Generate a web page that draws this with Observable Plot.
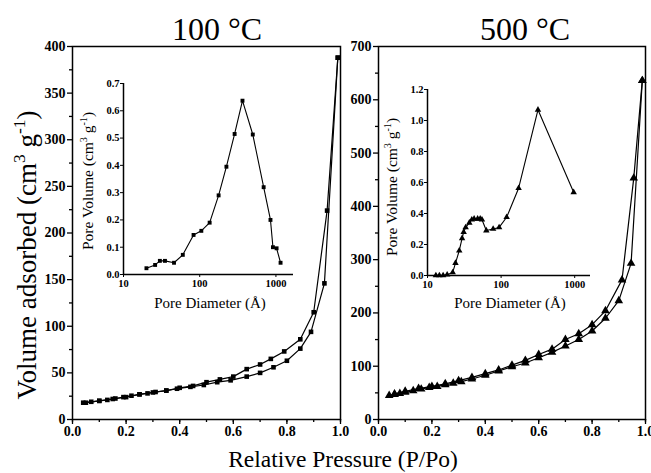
<!DOCTYPE html>
<html><head><meta charset="utf-8">
<script src="https://cdn.jsdelivr.net/npm/d3@7"></script>
<script src="https://cdn.jsdelivr.net/npm/@observablehq/plot@0.6"></script>
<style>
body{margin:0;background:#fff;}
#wrap{position:relative;width:651px;height:473px;overflow:hidden;background:#fff;}
#wrap svg{position:absolute;background:transparent !important;overflow:visible;}
</style></head><body><div id="wrap"></div>
<script>
// ---- 100 °C isotherm ----
const p100Ads = [0.04,0.07,0.10,0.13,0.16,0.19,0.22,0.25,0.28,0.31,0.35,0.39,0.44,0.49,0.54,0.59,0.65,0.70,0.75,0.80,0.85,0.89,0.94,0.99];
const v100Ads = [18,19,20,21,22.5,24,25.5,27,28,29.5,31,33,35,37,40,42,46,50,56,63,76,94,146,388];
const p100Des = [0.99,0.95,0.90,0.85,0.79,0.74,0.70,0.65,0.60,0.55,0.50,0.45,0.40,0.35,0.30,0.25,0.20,0.15,0.10,0.05];
const v100Des = [388,224,115,86,73,65,59,54,46,43,40,36,34,31,29,27,24,22,20,18];
// ---- 500 °C isotherm ----
const p500Ads = [0.04,0.06,0.08,0.10,0.13,0.16,0.19,0.22,0.25,0.28,0.31,0.35,0.40,0.45,0.50,0.55,0.60,0.65,0.70,0.75,0.80,0.85,0.90,0.946,0.988];
const v500Ads = [45,47,49,51,54,57,60,62,65,68,71,76,83,91,99,106,116,126,138,150,166,190,223,293,636];
const p500Des = [0.988,0.956,0.912,0.85,0.80,0.75,0.70,0.65,0.60,0.55,0.50,0.45,0.40,0.35,0.30,0.25,0.20,0.15,0.10,0.06];
const v500Des = [636,453,262,204,178,161,150,132,122,111,102,93,86,79,73,67,62,58,53,48];
// ---- pore size distributions (insets) ----
const d100 = [20,26,30,35,46,60,83,105,135,177,224,287,364,497,690,848,914,1020,1150];
const pv100 = [0.023,0.035,0.05,0.05,0.043,0.072,0.145,0.16,0.19,0.29,0.395,0.515,0.637,0.513,0.32,0.20,0.10,0.096,0.043];
const d500 = [13,14.5,16.3,18.5,22,24,27,29.5,31,33,37,40,43,48,52,55,63,78,94,119,173,317,968];
const pv500 = [0,0,0,0.005,0.02,0.08,0.16,0.24,0.28,0.31,0.34,0.36,0.366,0.366,0.366,0.36,0.29,0.30,0.31,0.376,0.563,1.069,0.537];
// ---- ticks / labels ----
const xMajor = [0,0.2,0.4,0.6,0.8,1.0];
const xMinor = [0,0.1,0.2,0.3,0.4,0.5,0.6,0.7,0.8,0.9,1.0];
const y100Major = [0,50,100,150,200,250,300,350,400];
const y100Minor = [25,75,125,175,225,275,325,375];
const y500Major = [0,100,200,300,400,500,600,700];
const y500Minor = [50,150,250,350,450,550,650];
const poreXTicks = [10,100,1000];
const pv100Ticks = [0,0.1,0.2,0.3,0.4,0.5,0.6,0.7];
const pv500Ticks = [0,0.2,0.4,0.6,0.8,1.0,1.2];
const titles = ["100 °C","500 °C"];

const zip = (xs, ys) => xs.map((x,i)=>({x, y: ys[i]}));
const wrap = document.getElementById("wrap");
const FONT = "Liberation Serif";
const fontOpts = (size) => ({fontFamily: FONT, fontSize: size, fontWeight: "bold", fill: "#000"});

function fixSvg(svg, left, top, size) {
  svg.setAttribute("font-family", FONT);
  d3.select(svg).selectAll("text").attr("font-family", FONT).attr("font-weight", "bold").attr("font-size", size);
  svg.style.left = left + "px"; svg.style.top = top + "px";
  svg.style.background = "transparent";
  wrap.appendChild(svg);
}

function mainPanel({ads, des, yMax, yMaj, yMin, symbol, r, width, marginLeft, marginRight, left}) {
  const f = fontOpts(14);
  const svg = Plot.plot({
    width, height: 473, marginTop: 46, marginBottom: 54, marginLeft, marginRight,
    x: {domain: [0,1]}, y: {domain: [0,yMax]},
    marks: [
      Plot.frame({stroke:"#000", strokeWidth:1.5}),
      Plot.axisX({ticks: xMinor, tickSize: 3, tickFormat: () => "", label: null, strokeWidth: 1.3, stroke:"#000"}),
      Plot.axisX({ticks: xMajor, tickSize: 5, tickPadding: 2, tickFormat: d3.format(".1f"), label: null, strokeWidth: 1.3, ...f, stroke:"#000"}),
      Plot.axisY({ticks: yMin, tickSize: 3, tickFormat: () => "", label: null, strokeWidth: 1.3, stroke:"#000"}),
      Plot.axisY({ticks: yMaj, tickSize: 5, tickPadding: 2, tickFormat: d3.format("d"), label: null, strokeWidth: 1.3, ...f, stroke:"#000"}),
      Plot.line(ads, {x:"x", y:"y", stroke:"#000", strokeWidth:1.2}),
      Plot.line(des, {x:"x", y:"y", stroke:"#000", strokeWidth:1.2}),
      Plot.dot(ads, {x:"x", y:"y", symbol, r, fill:"#000", stroke:"none"}),
      Plot.dot(des, {x:"x", y:"y", symbol, r, fill:"#000", stroke:"none"})
    ]
  });
  fixSvg(svg, left, 0, 14);
}

function inset({data, yMax, yTicks, xMax, symbol, r, left, top, plotW, plotH}) {
  const f = fontOpts(10.5);
  const svg = Plot.plot({
    width: 40 + plotW + 10, height: 10 + plotH + 45,
    marginLeft: 40, marginRight: 10, marginTop: 10, marginBottom: 45,
    x: {type: "log", domain: [10, xMax]}, y: {domain: [0, yMax]},
    marks: [
      Plot.ruleX([10], {stroke:"#000", strokeWidth:1.5}),
      Plot.ruleY([0], {stroke:"#000", strokeWidth:1.5}),
      Plot.axisX({ticks: poreXTicks, tickSize: 3, tickPadding: 2, tickFormat: d3.format("d"), label: null, ...f, stroke:"#000"}),
      Plot.axisY({ticks: yTicks, tickSize: 3, tickPadding: 1, tickFormat: d3.format(".1f"), label: null, ...f, stroke:"#000"}),
      Plot.line(data, {x:"x", y:"y", stroke:"#000", strokeWidth:1.1}),
      Plot.dot(data, {x:"x", y:"y", symbol, r, fill:"#000", stroke:"none"})
    ]
  });
  fixSvg(svg, left, top, 10.5);
}

mainPanel({ads: zip(p100Ads, v100Ads), des: zip(p100Des, v100Des), yMax: 400, yMaj: y100Major, yMin: y100Minor,
  symbol: "square", r: 2.6, width: 345, marginLeft: 72, marginRight: 5, left: 0});
mainPanel({ads: zip(p500Ads, v500Ads), des: zip(p500Des, v500Des), yMax: 700, yMaj: y500Major, yMin: y500Minor,
  symbol: "triangle", r: 3.2, width: 311, marginLeft: 38, marginRight: 6, left: 340});
inset({data: zip(d100, pv100), yMax: 0.7, yTicks: pv100Ticks, xMax: 1700, symbol: "square", r: 2.2,
  left: 83, top: 73, plotW: 170, plotH: 191});
inset({data: zip(d500, pv500), yMax: 1.2, yTicks: pv500Ticks, xMax: 1640, symbol: "triangle", r: 2.4,
  left: 387, top: 79, plotW: 163, plotH: 186});

// ---- text overlay: titles and axis labels ----
const ov = d3.select(wrap).append("svg").attr("width", 651).attr("height", 473)
  .style("left","0px").style("top","0px")
  .attr("font-family", FONT).attr("fill", "#000");
ov.append("text").attr("x", 217).attr("y", 40).attr("text-anchor","middle").attr("font-size", 32).text(titles[0]);
ov.append("text").attr("x", 525).attr("y", 40).attr("text-anchor","middle").attr("font-size", 32).text(titles[1]);

function unitLabel(g, prefix, size) {
  g.append("tspan").text(prefix + " (cm");
  g.append("tspan").attr("dy", -size*0.4).attr("font-size", size*0.65).text("3");
  g.append("tspan").attr("dy", size*0.4).text(" g");
  g.append("tspan").attr("dy", -size*0.4).attr("font-size", size*0.65).text("-1");
  g.append("tspan").attr("dy", size*0.4).text(")");
}
const yl = ov.append("text").attr("transform","translate(36,255) rotate(-90)").attr("text-anchor","middle").attr("font-size", 27);
unitLabel(yl, "Volume adsorbed", 27);
ov.append("text").attr("x", 343).attr("y", 467).attr("text-anchor","middle").attr("font-size", 23.5).text("Relative Pressure (P/Po)");

const il1 = ov.append("text").attr("transform","translate(93,181) rotate(-90)").attr("text-anchor","middle").attr("font-size", 15.5);
unitLabel(il1, "Pore Volume", 15.5);
const il2 = ov.append("text").attr("transform","translate(397,187) rotate(-90)").attr("text-anchor","middle").attr("font-size", 15.5);
unitLabel(il2, "Pore Volume", 15.5);
ov.append("text").attr("x", 210).attr("y", 308).attr("text-anchor","middle").attr("font-size", 15).text("Pore Diameter (Å)");
ov.append("text").attr("x", 510).attr("y", 308).attr("text-anchor","middle").attr("font-size", 15).text("Pore Diameter (Å)");
</script></body></html>
